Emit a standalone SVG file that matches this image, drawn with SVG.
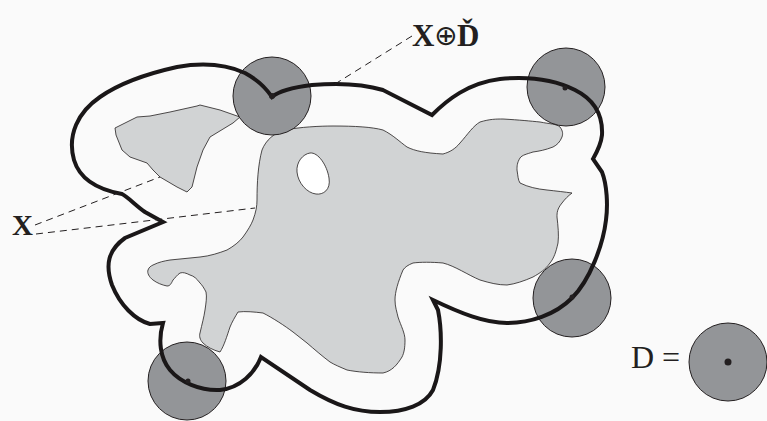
<svg xmlns="http://www.w3.org/2000/svg" width="767" height="421" viewBox="0 0 767 421">
<style>
.bg{fill:#fafafa}
.set{fill:#d1d3d4;stroke:#231f20;stroke-width:0.8;stroke-linejoin:round}
.hole{fill:#ffffff;stroke:#231f20;stroke-width:0.8}
.disk{fill:#939598;stroke:#231f20;stroke-width:1}
.dot{fill:#231f20}
.dil{fill:none;stroke:#1a1718;stroke-width:4;stroke-linejoin:miter;stroke-miterlimit:10}
.dash{fill:none;stroke:#231f20;stroke-width:1;stroke-dasharray:7,5}
.lbl{font-family:"Liberation Serif","Times New Roman",serif;fill:#231f20}
.b{font-weight:bold}
</style>
<rect class="bg" x="0" y="0" width="767" height="421"/>

<g id="setX">
<path class="set" d="M116,135 L115,128 L127,122 L137,117 L150,116 L170,112 L197,106 L200,105 L220,110 L240,117 L233,123 L210,137 L203,150 L197,167 L192,187 L187,192 L177,187 L160,177 L153,170 L147,163 L130,157 L122,150 Z"/>
<path class="set" d="M262,150 C266,140 274,133 285,130 C300,127 320,126 333,126 C355,126 372,127 383,130 C393,135 400,142 407,147 C415,151 425,153 443,154 C450,152 455,149 460,143 C468,134 473,126 480,122 C490,119 496,119 503,119 C520,120 530,121 540,122 C550,124 557,124 560,127 C563,131 563,134 562,137 C560,142 557,145 553,147 C545,150 540,151 533,152 C527,154 522,155 520,158 C517,163 517,166 517,170 C518,176 518,180 520,183 C528,187 537,189 547,190 C556,191 565,192 572,193 C568,196 565,199 562,203 C557,209 557,213 557,217 C558,226 559,235 558,243 C556,252 554,258 550,263 C545,270 540,273 533,277 C524,281 515,284 507,285 C498,285 490,283 480,280 C468,275 455,266 443,263 C432,262 420,262 413,263 C408,265 405,267 403,270 C398,282 395,292 395,300 C395,307 397,312 398,317 C401,326 405,333 405,340 C405,348 404,353 402,357 C397,365 392,371 383,373 C370,373 357,372 347,370 C340,367 335,365 330,362 C322,356 314,349 307,343 C302,339 298,336 293,332 C285,326 273,318 263,313 C255,312 245,311 238,312 C235,317 232,322 230,327 C227,336 224,346 220,352 C213,350 207,347 203,343 C200,340 199,336 200,333 C202,324 204,317 205,310 C206,303 207,297 206,292 C204,288 202,285 200,283 C197,279 194,276 190,275 C186,273 183,272 180,273 C177,275 175,278 173,280 C171,284 170,286 167,286 C162,285 157,283 153,280 C149,277 147,273 148,270 C149,267 151,266 153,265 C159,262 164,261 170,260 C180,259 190,258 200,257 C210,256 219,253 227,250 C234,246 239,242 243,237 C248,230 251,225 253,220 C256,212 257,206 257,200 C257,183 258,165 262,150 Z"/>
<path class="hole" d="M310,153 C318,152 327,165 329,178 C331,190 323,195 316,194 C307,193 298,183 297,172 C296,162 303,154 310,153 Z"/>
</g>

<g id="disk-topleft"><circle class="disk" cx="272" cy="96" r="39"/></g>
<g id="disk-topright"><circle class="disk" cx="566" cy="87" r="39"/></g>
<g id="disk-right"><circle class="disk" cx="572" cy="298" r="39"/></g>
<g id="disk-bottomleft"><circle class="disk" cx="187" cy="381" r="39"/></g>

<g id="dilation">
<path class="dil" d="M272,97 C280,90 295,87 312,85 C335,83 360,83 383,90 L432,115 C447,100 468,83 500,79 C530,76 555,80 575,90 C595,100 603,115 602,135 C601,145 597,152 593,159 L602,172 C607,185 608,205 606,220 C603,245 590,280 572,298 C555,315 530,323 507,323 C485,323 460,313 433,300 L438,310 C442,330 443,365 433,390 C425,405 405,412 380,412 C355,412 335,405 310,390 L261,357 C255,373 240,388 220,390 C200,391 180,382 170,370 C160,358 158,340 163,323 L150,324 C135,320 120,305 112,285 C105,265 108,250 125,238 L163,222 L145,212 C135,205 128,197 122,194 C100,190 80,180 74,160 C67,135 78,112 100,97 C120,83 150,73 177,67 C200,63 225,64 245,73 C258,80 266,88 272,97 Z"/>
<circle class="dot" cx="272" cy="96" r="3"/>
<circle class="dot" cx="565" cy="88" r="2.5"/>
<circle class="dot" cx="572" cy="297" r="2.5"/>
<circle class="dot" cx="188" cy="381" r="2.5"/>
</g>

<g id="connectors">
<line class="dash" x1="412" y1="36" x2="335" y2="84"/>
<line class="dash" x1="35" y1="225" x2="160" y2="177"/>
<line class="dash" x1="36" y1="234" x2="255" y2="208"/>
</g>

<g id="label-dilation">
<text class="lbl b" font-size="31"><tspan x="412" y="46">X</tspan><tspan x="434" y="45" font-size="28" font-weight="normal" font-family="DejaVu Sans">⊕</tspan><tspan x="457" y="46">Ď</tspan></text>
</g>

<g id="label-X">
<text class="lbl b" x="12" y="235" font-size="29">X</text>
</g>

<g id="label-D">
<text class="lbl" x="631" y="368" font-size="32">D =</text>
<circle class="disk" cx="728" cy="362" r="39"/>
<circle class="dot" cx="728" cy="362" r="3.5"/>
</g>
</svg>
